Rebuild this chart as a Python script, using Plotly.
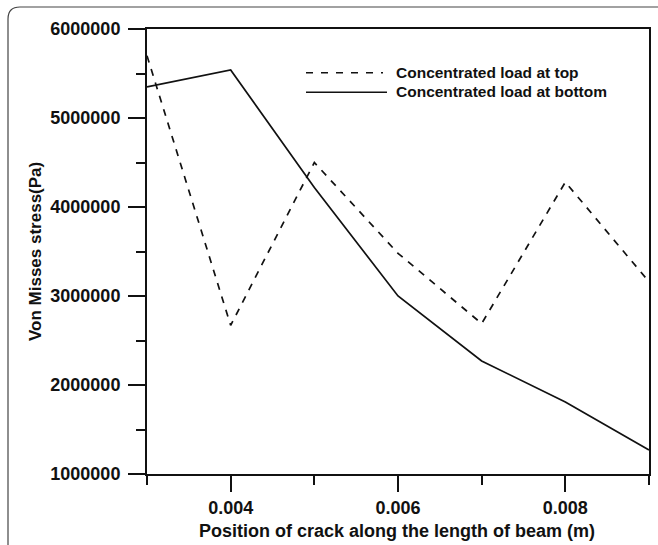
import plotly.graph_objects as go

# ---- data ----
positions = [0.003, 0.004, 0.005, 0.006, 0.007, 0.008, 0.009]
stress_top = [5700000, 2670000, 4500000, 3480000, 2690000, 4280000, 3160000]
stress_bottom = [5350000, 5540000, 4220000, 3000000, 2270000, 1810000, 1270000]
series_names = ["Concentrated load at top", "Concentrated load at bottom"]
x_tick_vals = [0.004, 0.006, 0.008]
x_tick_text = ["0.004", "0.006", "0.008"]
x_minor_vals = [0.003, 0.005, 0.007, 0.009]
y_tick_vals = [1000000, 2000000, 3000000, 4000000, 5000000, 6000000]
y_tick_text = ["1000000", "2000000", "3000000", "4000000", "5000000", "6000000"]

W, H = 658, 545
L, R, T, B = 147, 649, 29, 474
FONT = "Liberation Sans, Arial, sans-serif"
INK = "#111111"


def px(xp):
    return (xp - L) / (R - L)


def py(yp):
    return (B - yp) / (B - T)


fig = go.Figure()
fig.add_trace(go.Scatter(x=positions, y=stress_top, mode="lines", name=series_names[0],
                         line=dict(color=INK, width=1.7, dash="7px,7px"), showlegend=False))
fig.add_trace(go.Scatter(x=positions, y=stress_bottom, mode="lines", name=series_names[1],
                         line=dict(color=INK, width=1.7), showlegend=False))

fig.update_layout(
    width=W, height=H,
    margin=dict(l=L, r=W - R, t=T, b=H - B, autoexpand=False),
    paper_bgcolor="white", plot_bgcolor="white",
    font=dict(family=FONT, color=INK),
)
fig.update_xaxes(
    range=[0.003, 0.009], tickmode="array", tickvals=x_tick_vals, ticktext=x_tick_text,
    showgrid=False, zeroline=False, showline=True, linecolor=INK, linewidth=2, mirror=True,
    ticks="outside", ticklen=16, tickwidth=2, tickcolor=INK,
    tickfont=dict(size=18, family=FONT, weight="bold", color=INK),
    minor=dict(tickmode="array", tickvals=x_minor_vals, ticks="outside", ticklen=9,
               tickwidth=2, tickcolor=INK, showgrid=False),
)
fig.update_yaxes(
    range=[1000000, 6000000], tickmode="array", tickvals=y_tick_vals, ticktext=y_tick_text,
    showgrid=False, zeroline=False, showline=True, linecolor=INK, linewidth=2, mirror=True,
    ticks="outside", ticklen=17, tickwidth=2, tickcolor=INK, ticklabelstandoff=4,
    tickfont=dict(size=18, family=FONT, weight="bold", color=INK),
    minor=dict(dtick=500000, tick0=0, ticks="outside", ticklen=9, tickwidth=2,
               tickcolor=INK, showgrid=False),
)

# axis titles
fig.add_annotation(text="Position of crack along the length of beam (m)", xref="paper", yref="paper",
                   x=px(397), y=py(531), xanchor="center", yanchor="middle", showarrow=False,
                   font=dict(size=18, family=FONT, weight="bold", color=INK))
fig.add_annotation(text="Von Misses stress(Pa)", xref="paper", yref="paper",
                   x=px(35.5), y=py(251.5), xanchor="center", yanchor="middle", showarrow=False,
                   textangle=-90, font=dict(size=17, family=FONT, weight="bold", color=INK))

# legend (drawn manually)
fig.add_shape(type="line", xref="paper", yref="paper", x0=px(306), x1=px(383), y0=py(72.7), y1=py(72.7),
              line=dict(color=INK, width=1.6, dash="7px,8px"))
fig.add_shape(type="line", xref="paper", yref="paper", x0=px(306), x1=px(387), y0=py(92.3), y1=py(92.3),
              line=dict(color=INK, width=1.6))
for name, yy in zip(series_names, [72.7, 91.7]):
    fig.add_annotation(text=name, xref="paper", yref="paper", x=px(394), y=py(yy),
                       xanchor="left", yanchor="middle", showarrow=False,
                       font=dict(size=15.5, family=FONT, weight="bold", color=INK))

# outer rounded frame
r = 12
path = (f"M {px(8)},{py(560)} L {px(8)},{py(7 + r)} Q {px(8)},{py(7)} {px(8 + r)},{py(7)} "
        f"L {px(660)},{py(7)}")
fig.add_shape(type="path", xref="paper", yref="paper", path=path,
              line=dict(color="#444444", width=1.2), layer="below")

fig.write_html("out.html")
